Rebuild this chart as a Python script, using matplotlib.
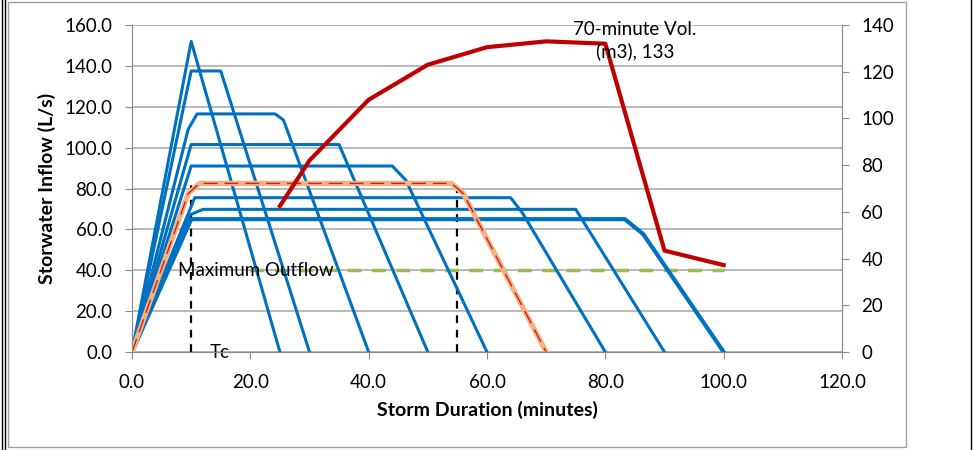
# Storm hydrographs vs. duration, with storage volume on the right axis
import matplotlib
matplotlib.use("Agg")
import matplotlib.pyplot as plt
from matplotlib.lines import Line2D
from matplotlib.patches import Rectangle

plt.rcParams['font.family'] = ['Lato', 'DejaVu Sans']

# inflow hydrographs (minutes, L/s), one per storm duration
hydro_t = [
    [0, 10, 25],
    [0, 10, 15, 30],
    [0, 9.5, 11, 24.2, 25.6, 40],
    [0, 10, 35, 50],
    [0, 10, 44, 46.3, 60],
    [0, 10.6, 64, 66, 80],
    [0, 9.7, 12, 75, 90],
    [0, 10, 83.3, 86.4, 100],
]
hydro_q = [
    [0, 152, 0],
    [0, 137.5, 137.5, 0],
    [0, 109, 116.5, 116.5, 113.5, 0],
    [0, 101.5, 101.5, 0],
    [0, 91, 91, 84, 0],
    [0, 75.5, 75.5, 68, 0],
    [0, 67, 69.8, 69.8, 0],
    [0, 65, 65, 57.7, 0],
]
hydro_lw = [2.2, 2.2, 2.2, 2.2, 2.2, 2.2, 2.2, 3.0]

# critical (70-minute) storm
crit_t = [0, 9.5, 11.4, 54, 56, 70]
crit_q = [0, 77.5, 82.5, 82.5, 77.5, 0]

# maximum outflow
outflow_t = [20, 100]
outflow_q = [40, 40]

# Tc markers
tc_t = [10, 55]
tc_top = 82

# storage volume (m3) per duration
vol_t = [25, 30, 40, 50, 60, 70, 80, 90, 100]
vol = [62.5, 82, 108, 123, 130.5, 133, 132, 43.4, 37.2]

W, H = 973, 450
fig = plt.figure(figsize=(W / 100, H / 100), dpi=100)
ax = fig.add_axes([132 / W, 1 - 352 / H, 710 / W, 327 / H])
ax2 = ax.twinx()

grey = '#8C8C8C'
fs = 13.5
for t, q, lw in zip(hydro_t, hydro_q, hydro_lw):
    ax.plot(t, q, color='#0070C0', lw=lw, zorder=3)
ax.plot(crit_t, crit_q, color='#F4B183', lw=3.8, zorder=4)
ax.plot(crit_t, crit_q, color='#C00000', lw=1.0, ls=(0, (10, 5)), alpha=0.8, zorder=5)
ax.plot(outflow_t, outflow_q, color='#9BBB59', lw=2.5, ls=(0, (4, 3)), zorder=2)
for t in tc_t:
    ax.plot([t, t], [0, tc_top], color='black', lw=1.6, ls=(0, (3.5, 3)), zorder=2)

ax.text(7.8, 40, 'Maximum Outflow', fontsize=fs, ha='left', va='center', zorder=6)
ax.text(13.2, 0, 'Tc', fontsize=fs, ha='left', va='center', zorder=6)

ax2.plot(vol_t, vol, color='#C00000', lw=3.0, zorder=5)
ax2.text(85, 133.3, '70-minute Vol.\n(m3), 133', fontsize=fs, ha='center',
         va='center', linespacing=1.33, zorder=6)

ax.set_xlim(0, 120)
ax.set_ylim(0, 160)
ax2.set_ylim(0, 140)
ax.set_xticks(range(0, 121, 20))
ax.set_xticklabels([f'{v:.1f}' for v in range(0, 121, 20)])
ax.set_yticks(range(0, 161, 20))
ax.set_yticklabels([f'{v:.1f}' for v in range(0, 161, 20)])
ax2.set_yticks(range(0, 141, 20))

ax.grid(axis='y', color='#A6A6A6', lw=1.1)
ax.set_axisbelow(True)
for a in (ax, ax2):
    for s in a.spines.values():
        s.set_color(grey)
    a.spines['top'].set_visible(False)
ax.tick_params(axis='x', length=5, color=grey, pad=11, labelsize=fs)
ax.tick_params(axis='y', length=5, color=grey, pad=9, labelsize=fs)
ax2.tick_params(axis='y', length=5, color=grey, pad=9, labelsize=fs)

fig.text(47 / W, 1 - 188 / H, 'Storwater Inflow (L/s)', rotation=90,
         fontsize=14, fontweight='bold', ha='center', va='center')
fig.text(487 / W, 1 - 410 / H, 'Storm Duration (minutes)',
         fontsize=14, fontweight='bold', ha='center', va='center')

# outer chart frame
fig.add_artist(Rectangle((8 / W, 1 - 447 / H), 898 / W, 445 / H,
                         transform=fig.transFigure, fill=False,
                         edgecolor='#A0A0A0', lw=1.0))
for px in (1.5, 5):
    fig.add_artist(Line2D([px / W, px / W], [0, 1], color='black', lw=1.0))
fig.add_artist(Line2D([970.5 / W, 970.5 / W], [0, 1], color='black', lw=1.0))

fig.savefig('out.png', dpi=100)
